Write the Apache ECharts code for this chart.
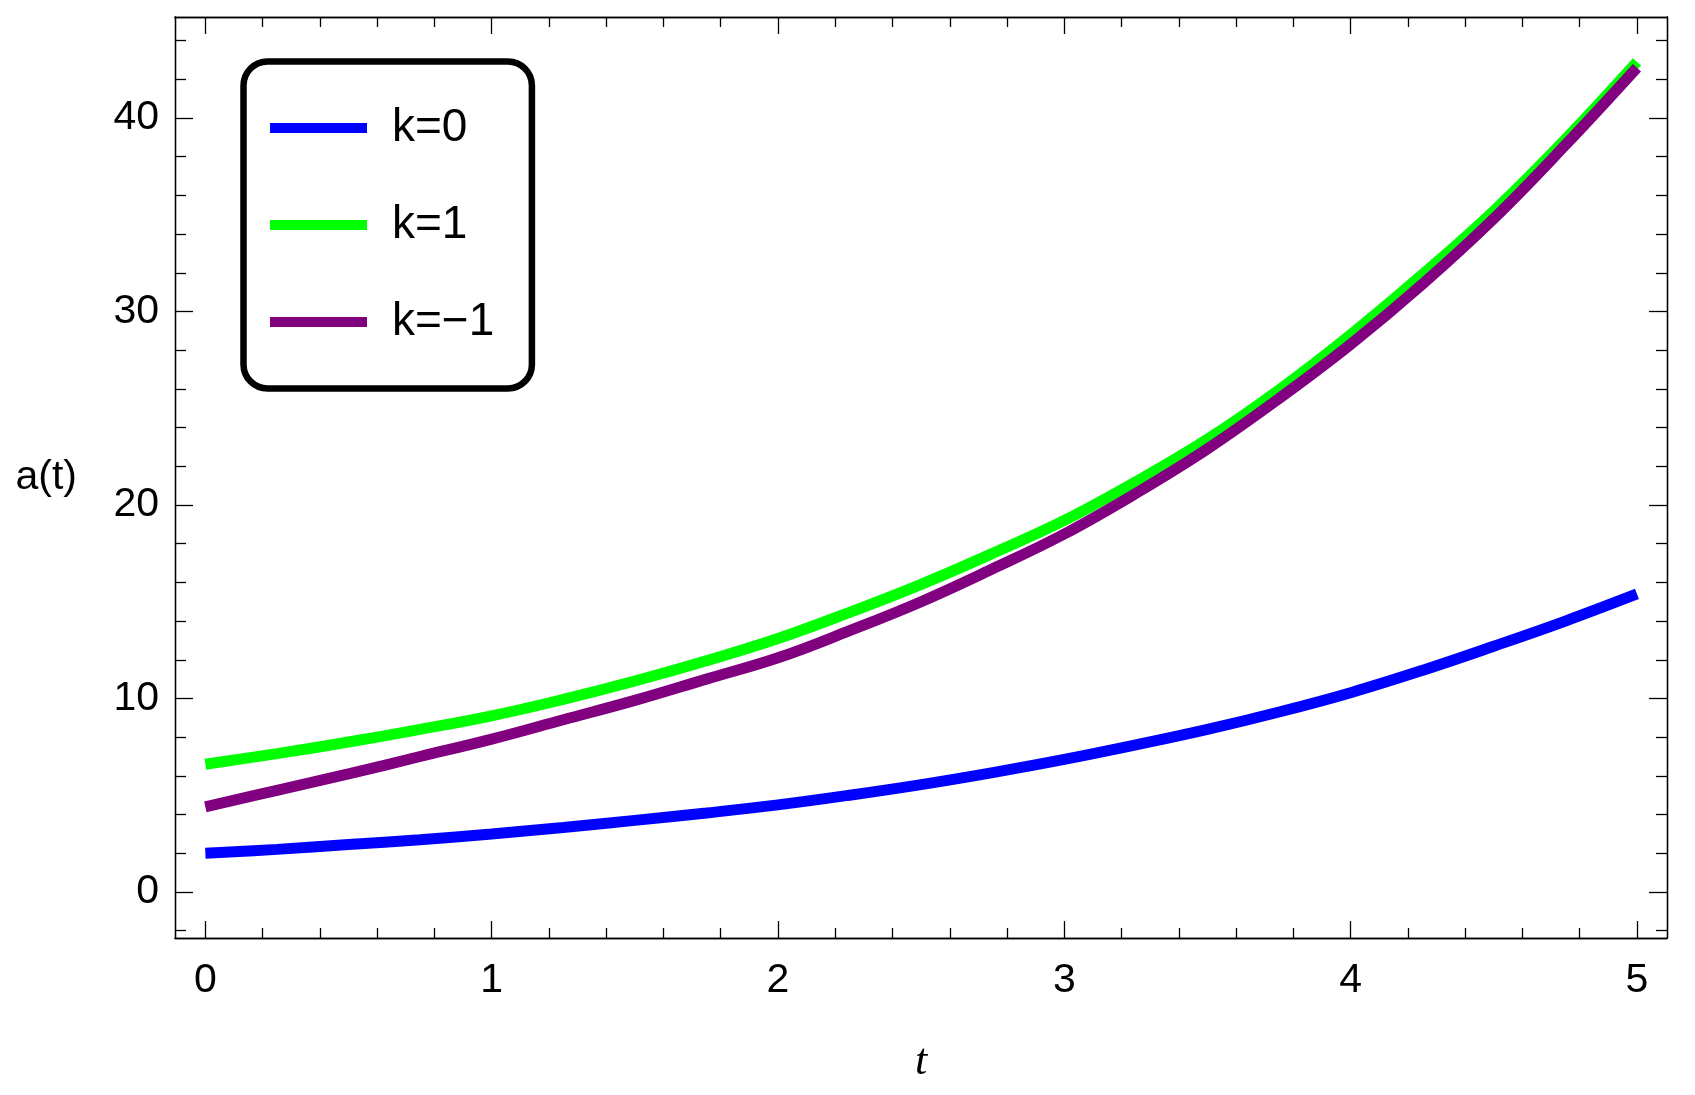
<!DOCTYPE html>
<html>
<head>
<meta charset="utf-8">
<title>a(t)</title>
<script src="https://cdn.jsdelivr.net/npm/echarts@6/dist/echarts.min.js"></script>
<style>
    html, body {margin: 0; padding: 0; background: #fff;}
    #chart {width: 1695px; height: 1095px;}
</style>
</head>
<body>
<div id="chart"></div>
<script>
    // values
    var tValues = [0, 0.25, 0.5, 0.75, 1, 1.25, 1.5, 1.75, 2, 2.25, 2.5,
                   2.75, 3, 3.25, 3.5, 3.75, 4, 4.25, 4.5, 4.75, 5];
    var k0 = [2.0, 2.2, 2.45, 2.7, 3.0, 3.33, 3.7, 4.08, 4.5, 5.0, 5.55,
              6.17, 6.85, 7.6, 8.4, 9.3, 10.3, 11.45, 12.7, 14.0, 15.4];
    var k1 = [6.6, 7.15, 7.75, 8.4, 9.1, 9.95, 10.9, 11.95, 13.1, 14.45, 15.9,
              17.5, 19.2, 21.2, 23.4, 25.95, 28.8, 31.9, 35.2, 38.9, 42.9];
    var kMinus1 = [4.4, 5.25, 6.1, 7.0, 7.9, 8.9, 9.9, 11.0, 12.1, 13.5, 15.0,
                   16.7, 18.5, 20.6, 22.9, 25.5, 28.3, 31.4, 34.8, 38.6, 42.6];

    var xMajor = [0, 1, 2, 3, 4, 5];
    var xMinor = [0.2, 0.4, 0.6, 0.8, 1.2, 1.4, 1.6, 1.8, 2.2, 2.4, 2.6, 2.8,
                  3.2, 3.4, 3.6, 3.8, 4.2, 4.4, 4.6, 4.8];
    var yMajor = [0, 10, 20, 30, 40];
    var yMinor = [-2, 2, 4, 6, 8, 12, 14, 16, 18, 22, 24, 26, 28, 32, 34, 36, 38, 42, 44];

    var font = 'Liberation Sans, Arial, sans-serif';
    var xMin = -0.106, xMax = 5.105, yMin = -2.38, yMax = 45.22;

    function pairs(ys) {
        return tValues.map(function (t, i) { return [t, ys[i]]; });
    }

    // one axis per side and tick size, all of them drawn as a frame
    function xAx(pos, ticks, len, withLabel) {
        return {
            type: 'value', position: pos, min: xMin, max: xMax,
            axisLine: {show: true, onZero: false, lineStyle: {color: '#000', width: 1.3}},
            axisTick: {show: true, inside: true, length: len, customValues: ticks,
                       lineStyle: {color: '#000', width: 1.3}},
            axisLabel: withLabel ? {show: true, customValues: ticks, margin: 22,
                       color: '#000', fontSize: 41, fontFamily: font} : {show: false},
            splitLine: {show: false}
        };
    }
    function yAx(pos, ticks, len, withLabel) {
        return {
            type: 'value', position: pos, min: yMin, max: yMax,
            axisLine: {show: true, onZero: false, lineStyle: {color: '#000', width: 1.3}},
            axisTick: {show: true, inside: true, length: len, customValues: ticks,
                       lineStyle: {color: '#000', width: 1.3}},
            axisLabel: withLabel ? {show: true, customValues: ticks, margin: 16,
                       color: '#000', fontSize: 41, fontFamily: font} : {show: false},
            splitLine: {show: false}
        };
    }

    var xBottom = xAx('bottom', xMajor, 17, true);
    xBottom.name = 't';
    xBottom.nameLocation = 'middle';
    xBottom.nameGap = 102;
    xBottom.nameTextStyle = {color: '#000', fontSize: 44, fontStyle: 'italic',
                             fontFamily: 'Liberation Serif, Times New Roman, serif'};

    var yLeft = yAx('left', yMajor, 18, true);
    yLeft.name = 'a(t)';
    yLeft.nameLocation = 'middle';
    yLeft.nameRotate = 0;
    yLeft.nameGap = 98;
    yLeft.nameTextStyle = {color: '#000', fontSize: 41, fontFamily: font, padding: [22, 0, 0, 0]};

    var chart = echarts.init(document.getElementById('chart'));
    chart.setOption({
        animation: false,
        backgroundColor: '#fff',
        grid: {left: 175, right: 28, top: 17, bottom: 157},
        legend: {
            orient: 'vertical',
            left: 243.5, top: 61.5,
            data: ['k=0', 'k=1', 'k=\u22121'],
            icon: 'rect',
            itemWidth: 97, itemHeight: 10, itemGap: 47,
            padding: [41.5, 37.6, 41.4, 26.5],
            borderColor: '#000', borderWidth: 6.5, borderRadius: 24,
            textStyle: {color: '#000', fontSize: 46, fontFamily: font,
                        lineHeight: 44, padding: [6, 0, 0, 20]}
        },
        xAxis: [
            xBottom,
            xAx('bottom', xMinor, 10, false),
            xAx('top', xMajor, 17, false),
            xAx('top', xMinor, 10, false)
        ],
        yAxis: [
            yLeft,
            yAx('left', yMinor, 11, false),
            yAx('right', yMajor, 18, false),
            yAx('right', yMinor, 11, false)
        ],
        series: [
            {name: 'k=0', type: 'line', smooth: 0.4, symbol: 'none', data: pairs(k0),
             color: '#0000ff', lineStyle: {width: 11, color: '#0000ff'}},
            {name: 'k=1', type: 'line', smooth: 0.4, symbol: 'none', data: pairs(k1),
             color: '#00ff00', lineStyle: {width: 11, color: '#00ff00'}},
            {name: 'k=\u22121', type: 'line', smooth: 0.4, symbol: 'none', data: pairs(kMinus1),
             color: '#800080', lineStyle: {width: 11, color: '#800080'}}
        ]
    });
</script>
</body>
</html>
